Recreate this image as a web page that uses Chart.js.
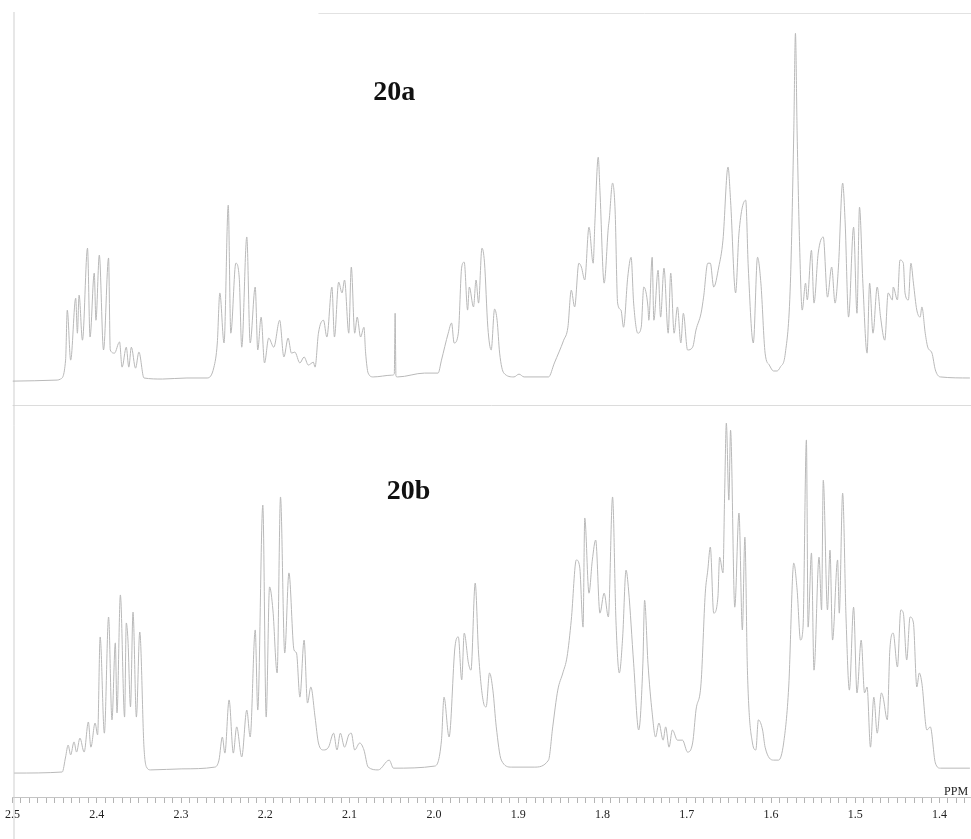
<!DOCTYPE html>
<html>
<head>
<meta charset="utf-8">
<script src="https://cdn.jsdelivr.net/npm/chart.js@4"></script>
<style>
html, body { margin: 0; padding: 0; background: #fff; }
#wrap { width: 971px; height: 839px; }
</style>
</head>
<body>
<div id="wrap"><canvas id="nmr"></canvas></div>
<script>
// 1H NMR traces, chemical shift (ppm) and relative intensity (tallest peak ~100)
const ppmA = [2.500, 2.447, 2.443, 2.437, 2.435, 2.431, 2.425, 2.423, 2.421, 2.417, 2.411, 2.408, 2.403, 2.401, 2.397, 2.392, 2.386, 2.384, 2.379, 2.373, 2.370, 2.365, 2.362, 2.359, 2.354, 2.350, 2.344, 2.322, 2.293, 2.269,
  2.261, 2.257, 2.254, 2.249, 2.244, 2.241, 2.235, 2.231, 2.228, 2.222, 2.218, 2.212, 2.209, 2.205, 2.201, 2.196, 2.190, 2.183, 2.178, 2.173, 2.169, 2.165, 2.159, 2.154, 2.149, 2.143, 2.141, 2.137, 2.131, 2.127,
  2.121, 2.118, 2.113, 2.109, 2.106, 2.101, 2.098, 2.094, 2.091, 2.087, 2.083, 2.081, 2.078, 2.072, 2.050, 2.047, 2.046, 2.045, 2.043, 2.011, 1.995, 1.991, 1.983, 1.979, 1.976, 1.971, 1.967, 1.964, 1.960, 1.958,
  1.953, 1.950, 1.947, 1.943, 1.940, 1.936, 1.932, 1.928, 1.925, 1.922, 1.917, 1.905, 1.899, 1.893, 1.864, 1.857, 1.846, 1.841, 1.837, 1.833, 1.828, 1.825, 1.821, 1.816, 1.811, 1.809, 1.805, 1.803, 1.798, 1.793,
  1.792, 1.788, 1.785, 1.782, 1.778, 1.775, 1.770, 1.766, 1.763, 1.758, 1.754, 1.751, 1.746, 1.745, 1.741, 1.739, 1.734, 1.731, 1.727, 1.722, 1.719, 1.715, 1.711, 1.707, 1.704, 1.699, 1.693, 1.689, 1.683, 1.680,
  1.675, 1.672, 1.668, 1.662, 1.657, 1.651, 1.648, 1.642, 1.638, 1.630, 1.627, 1.621, 1.616, 1.612, 1.607, 1.602, 1.597, 1.593, 1.589, 1.583, 1.577, 1.573, 1.571, 1.569, 1.566, 1.563, 1.559, 1.557, 1.552, 1.549, 1.544, 1.538,
  1.533, 1.528, 1.524, 1.520, 1.515, 1.512, 1.508, 1.502, 1.498, 1.495, 1.491, 1.486, 1.483, 1.479, 1.474, 1.470, 1.465, 1.461, 1.456, 1.455, 1.450, 1.447, 1.443, 1.441, 1.437, 1.434, 1.431, 1.427, 1.423, 1.421,
  1.417, 1.414, 1.409, 1.405, 1.399, 1.364];
const intA = [-0.3, 0, 0.3, 5.7, 20, 5.7, 23.4, 13.4, 24.3, 11.4, 37.7, 12.3, 30.6, 17.1, 35.7, 8.6, 34.9, 8.6, 7.7, 10.9, 3.7, 9.4, 3.7, 9.4, 3.4, 8, 0.6, 0.3, 0.6, 0.6,
  3.7, 10.6, 24.9, 10.6, 50, 13.4, 33.4, 29.4, 9.4, 40.9, 10.6, 26.6, 8.6, 18, 4.9, 12, 9.4, 17.1, 6.6, 12, 7.7, 8, 4.9, 6.6, 4.3, 5.1, 3.7, 13.4, 17.1, 12.3,
  26.6, 12.3, 28, 24.9, 28.6, 13.4, 32.3, 13.4, 18, 12.3, 15.1, 7.7, 2, 0.9, 1.4, 1.7, 19.1, 1.1, 0.9, 2, 2, 5.7, 13.4, 16.3, 10.6, 13.4, 32.3, 33.7, 20, 26.6,
  20.9, 28.6, 22, 37.7, 33.7, 15.1, 8.6, 20.3, 17.1, 7.7, 2, 0.9, 1.7, 0.9, 0.9, 4.9, 11.4, 15.1, 25.7, 20.9, 33.4, 32.3, 28.6, 43.7, 33.4, 44.9, 63.7, 54.3, 27.7, 43.7,
  45.7, 56.3, 48.6, 22, 20, 15.1, 29.4, 35.1, 22, 13.4, 15.1, 26.6, 20.9, 17.1, 35.1, 17.1, 31.4, 18, 32, 13.4, 30.6, 13.4, 20.9, 10.6, 19.1, 8.6, 9.4, 14.3, 19.1, 23.7,
  33.4, 33.4, 26.6, 32.3, 40, 60.9, 51.4, 24.9, 42, 51.4, 32.3, 10.6, 35.1, 27.7, 7.7, 4.3, 2.6, 2.6, 3.7, 7.7, 27.7, 70.6, 99.1, 70.6, 38, 20, 27.7, 22.9, 37.1, 22, 36.3, 40.9,
  23.7, 32.3, 22, 32.3, 56.3, 44.9, 18, 43.7, 19.1, 49.4, 27.7, 7.7, 27.7, 13.4, 26.6, 18, 11.4, 24.9, 22.9, 26.6, 22.9, 34.3, 33.4, 24.9, 22.9, 33.4, 27.7, 20, 18, 20.9,
  13.4, 9.4, 7.7, 2.9, 0.9, 0.6];

const ppmB = [2.498, 2.441, 2.437, 2.434, 2.431, 2.427, 2.424, 2.420, 2.415, 2.410, 2.407, 2.402, 2.399, 2.396, 2.391, 2.386, 2.382, 2.378, 2.376, 2.372, 2.367, 2.365, 2.363, 2.360, 2.357, 2.353, 2.349, 2.344, 2.341, 2.336,
  2.299, 2.260, 2.255, 2.251, 2.248, 2.243, 2.238, 2.234, 2.228, 2.222, 2.218, 2.212, 2.209, 2.203, 2.199, 2.195, 2.191, 2.186, 2.182, 2.177, 2.172, 2.166, 2.163, 2.159, 2.154, 2.150, 2.146, 2.141, 2.137, 2.131,
  2.125, 2.119, 2.115, 2.111, 2.106, 2.101, 2.098, 2.094, 2.088, 2.083, 2.078, 2.066, 2.053, 2.048, 1.999, 1.991, 1.988, 1.982, 1.975, 1.971, 1.967, 1.964, 1.959, 1.956, 1.951, 1.947, 1.941, 1.938, 1.934, 1.930,
  1.926, 1.920, 1.908, 1.881, 1.864, 1.859, 1.853, 1.847, 1.842, 1.837, 1.831, 1.827, 1.823, 1.821, 1.816, 1.812, 1.808, 1.803, 1.798, 1.793, 1.788, 1.784, 1.780, 1.776, 1.772, 1.769, 1.763, 1.757, 1.752, 1.750,
  1.746, 1.741, 1.737, 1.733, 1.728, 1.725, 1.721, 1.717, 1.711, 1.705, 1.699, 1.693, 1.689, 1.683, 1.678, 1.675, 1.672, 1.668, 1.663, 1.661, 1.657, 1.655, 1.653, 1.650, 1.648, 1.643, 1.638, 1.634, 1.631, 1.628,
  1.622, 1.618, 1.615, 1.610, 1.607, 1.597, 1.591, 1.585, 1.579, 1.573, 1.569, 1.565, 1.562, 1.558, 1.556, 1.552, 1.549, 1.543, 1.540, 1.538, 1.533, 1.530, 1.527, 1.521, 1.519, 1.515, 1.511, 1.507, 1.502, 1.498,
  1.493, 1.489, 1.486, 1.482, 1.478, 1.474, 1.469, 1.467, 1.462, 1.459, 1.455, 1.450, 1.446, 1.443, 1.439, 1.435, 1.431, 1.427, 1.424, 1.421, 1.415, 1.411, 1.405, 1.399, 1.364];
const intB = [-0.3, 0, 4.3, 7.7, 4.9, 8.6, 5.7, 9.7, 5.7, 14.3, 7.1, 14, 10.6, 38.6, 11.1, 44.3, 14.9, 36.9, 16.9, 50.6, 15.7, 42.6, 37.7, 18.6, 45.7, 15.7, 40, 7.1, 1.4, 0.6,
  0.9, 1.4, 3.4, 10, 5.4, 20.6, 5.4, 12.9, 4.3, 17.7, 10, 40.6, 17.7, 76.3, 15.7, 52.9, 46.3, 28.3, 78.6, 34, 56.9, 34.9, 34, 21.4, 37.7, 19.7, 24.3, 15.7, 8.3, 6.3,
  7.1, 11.1, 6.3, 11.1, 7.1, 10.6, 11.1, 6.3, 8.3, 6.3, 1.4, 0.6, 3.4, 1.1, 1.7, 9.1, 21.4, 10, 35.7, 38.6, 26.3, 39.7, 31.1, 29.1, 54, 34, 19.7, 18.6, 28.3, 23.4,
  12.9, 3.4, 1.4, 1.4, 3.4, 12.9, 23.4, 28.3, 32.9, 43.4, 60.6, 58.6, 41.4, 72.6, 51.1, 60.6, 66.3, 45.4, 51.1, 44.3, 78.6, 43.4, 28.3, 38.6, 57.7, 52, 31.1, 12, 31.1, 49.1,
  31.1, 16.9, 10, 14, 9.1, 12.9, 7.1, 12, 9.1, 9.1, 5.7, 8.3, 17.7, 25.4, 51.1, 57.7, 64.3, 45.4, 50, 61.4, 56.9, 79.7, 99.7, 77.7, 97.7, 47.1, 74, 40.6, 67.1, 29.1,
  8.3, 6.3, 14.9, 12, 7.1, 3.4, 3.4, 8.3, 24.3, 59.7, 52, 37.7, 41.4, 94.9, 41.4, 62.6, 29.1, 61.4, 46.3, 83.4, 46.3, 63.4, 37.7, 60.6, 45.4, 79.7, 44.3, 23.4, 47.1, 22.6,
  37.7, 22.6, 24.3, 7.1, 21.4, 11.1, 22.6, 21.4, 14.9, 34.9, 39.7, 30, 46.3, 45.4, 32, 44.3, 42.6, 24.3, 28.3, 25.4, 12, 12.9, 2.6, 1.1, 1.1];

const panelLabels = ['20a', '20b'];
const majorTicks = [2.5, 2.4, 2.3, 2.2, 2.1, 2.0, 1.9, 1.8, 1.7, 1.6, 1.5, 1.4];

const topOffset = 112;   // upper trace sits above the lower one
const lineColor = '#b9b9b9';

const toPoints = (ppm, ints, off) => ppm.map((p, i) => ({ x: p, y: ints[i] + off }));

const decor = {
  id: 'decor',
  beforeDatasetsDraw(chart) {
    const { ctx, chartArea, scales } = chart;
    const x = scales.x, y = scales.y;
    ctx.save();
    ctx.lineWidth = 1;
    // divider between the two traces
    ctx.strokeStyle = '#dcdcdc';
    const ySep = Math.round(y.getPixelForValue(104.9)) + 0.5;
    ctx.beginPath(); ctx.moveTo(chartArea.left, ySep); ctx.lineTo(chartArea.right, ySep); ctx.stroke();
    // frame top and left
    ctx.strokeStyle = '#e2e2e2';
    ctx.beginPath(); ctx.moveTo(x.getPixelForValue(2.137), chartArea.top + 0.5); ctx.lineTo(chartArea.right, chartArea.top + 0.5); ctx.stroke();
    ctx.strokeStyle = '#cfcfcf';
    ctx.beginPath(); ctx.moveTo(chartArea.left + 1.5, chartArea.top - 1); ctx.lineTo(chartArea.left + 1.5, chart.height); ctx.stroke();
    ctx.restore();
  },
  afterDraw(chart) {
    const { ctx, scales } = chart;
    const x = scales.x, y = scales.y;
    ctx.save();
    ctx.fillStyle = '#111';
    ctx.font = 'bold 28px "Liberation Serif", "Times New Roman", serif';
    ctx.textAlign = 'center';
    ctx.textBaseline = 'middle';
    ctx.fillText(panelLabels[0], x.getPixelForValue(2.047), y.getPixelForValue(194));
    ctx.fillText(panelLabels[1], x.getPixelForValue(2.030), y.getPixelForValue(80));
    // unit label at the right end of the axis
    ctx.font = '12px "Liberation Serif", serif';
    ctx.textAlign = 'left';
    ctx.textBaseline = 'alphabetic';
    ctx.fillStyle = '#222';
    ctx.fillText('PPM', x.getPixelForValue(1.3947), y.getPixelForValue(-7.14) - 2);
    ctx.restore();
  }
};

new Chart(document.getElementById('nmr'), {
  type: 'line',
  data: {
    datasets: [
      { label: '20a', data: toPoints(ppmA, intA, topOffset), borderColor: lineColor, borderWidth: 1, pointRadius: 0, cubicInterpolationMode: 'monotone' },
      { label: '20b', data: toPoints(ppmB, intB, 0), borderColor: lineColor, borderWidth: 1, pointRadius: 0, cubicInterpolationMode: 'monotone' }
    ]
  },
  options: {
    responsive: true,
    maintainAspectRatio: false,
    animation: false,
    layout: { padding: { left: 10, top: 13, right: 0, bottom: 0 } },
    plugins: { legend: { display: false }, tooltip: { enabled: false } },
    scales: {
      x: {
        type: 'linear',
        reverse: true,
        min: 1.3627,
        max: 2.5,
        afterFit: (s) => { s.height = 42; },
        border: { color: '#c4c4c4' },
        grid: { drawOnChartArea: false, tickLength: 6, color: '#b4b4b4' },
        ticks: {
          stepSize: 0.01,
          includeBounds: false,
          autoSkip: false,
          maxRotation: 0,
          maxTicksLimit: 200,
          padding: 5,
          color: '#222',
          font: { family: '"Liberation Serif", serif', size: 12 },
          callback: (v) => {
            const m = majorTicks.find(t => Math.abs(t - v) < 1e-6);
            return m === undefined ? '' : m.toFixed(1);
          }
        }
      },
      y: { display: false, min: -7.14, max: 216.9 }
    }
  },
  plugins: [decor]
});
</script>
</body>
</html>
